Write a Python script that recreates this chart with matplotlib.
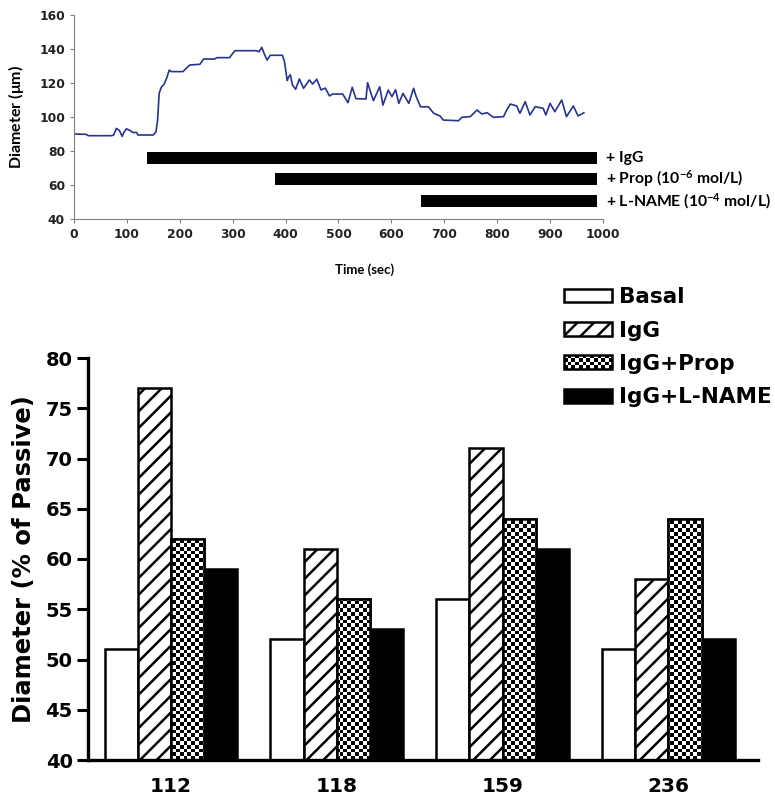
import numpy as np
import matplotlib
matplotlib.use("Agg")
import matplotlib.pyplot as plt
from matplotlib.patches import Rectangle
from matplotlib.legend_handler import HandlerBase

plt.rcParams['mathtext.fontset'] = 'custom'
plt.rcParams['mathtext.rm'] = 'Lato'
plt.rcParams['mathtext.bf'] = 'Lato:bold'
plt.rcParams['mathtext.it'] = 'Lato:italic'
plt.rcParams['hatch.linewidth'] = 1.8

# ---------------- data: top trace ----------------
trace_t = [0, 23, 27, 71, 75, 80, 86, 91, 94, 99, 106, 112, 118, 121, 150, 155, 158, 161,
           165, 170, 175, 180, 184, 206, 212, 219, 238, 245, 266, 270, 294, 304, 345, 350,
           355, 360, 365, 371, 394, 398, 403, 406, 409, 413, 419, 426, 434, 445, 451, 459,
           467, 475, 483, 489, 508, 518, 526, 533, 552, 555, 566, 578, 584, 594, 601, 608,
           614, 622, 633, 642, 647, 655, 670, 680, 692, 698, 727, 733, 749, 762, 771, 781,
           793, 812, 818, 825, 837, 843, 853, 862, 872, 887, 892, 900, 909, 922, 931, 944,
           953, 964]
trace_d = [90.0, 89.8, 89.0, 89.0, 89.4, 93.3, 92.0, 88.6, 90.8, 93.1, 92.0, 90.8, 91.0, 89.4,
           89.4, 91.4, 98.2, 113.9, 117.5, 119.2, 122.7, 127.6, 126.7, 126.7, 128.6, 130.6,
           131.0, 134.1, 134.1, 134.9, 134.9, 139.0, 139.0, 138.4, 141.0, 136.9, 133.5, 136.3,
           136.3, 132.5, 121.4, 123.7, 124.9, 118.8, 116.3, 122.4, 116.9, 121.8, 119.4, 122.2,
           115.9, 117.0, 112.4, 113.5, 113.5, 108.4, 117.5, 110.8, 110.6, 120.2, 109.6, 117.8,
           107.0, 115.8, 112.0, 116.0, 108.0, 113.9, 108.0, 116.9, 112.0, 106.0, 106.0, 102.2,
           100.6, 98.2, 97.8, 99.8, 100.2, 104.1, 101.8, 102.5, 99.8, 100.2, 104.1, 107.6,
           106.5, 102.2, 109.0, 101.2, 106.1, 105.1, 101.2, 108.0, 103.1, 110.0, 100.2, 106.5,
           100.6, 102.5]

treat_labels = ['+ IgG', r'+ Prop (10$^{\mathbf{-6}}$ mol/L)', r'+ L-NAME (10$^{\mathbf{-4}}$ mol/L)']
treat_start = [138, 380, 656]
treat_end = [989, 989, 989]
treat_y = [76.0, 63.5, 50.5]

# ---------------- data: bar chart ----------------
groups = ['112', '118', '159', '236']
series = ['Basal', 'IgG', 'IgG+Prop', 'IgG+L-NAME']
basal = [51, 52, 56, 51]
igg = [77, 61, 71, 58]
igg_prop = [62, 56, 64, 64]
igg_lname = [59, 53, 61, 52]

fig = plt.figure(figsize=(7.75, 8.0), dpi=100)

# ---------------- top panel ----------------
ax1 = fig.add_axes([0.0955, 0.72625, 0.778 - 0.0955, 0.98125 - 0.72625])
ax1.plot(trace_t, trace_d, color='#26338F', lw=1.2)
for s, e, y in zip(treat_start, treat_end, treat_y):
    ax1.barh(y, e - s, left=s, height=6.8, color='black', clip_on=False)
for lab, y in zip(treat_labels, treat_y):
    ax1.text(1005, y, lab, fontsize=11.3, fontweight='bold', family='Lato',
             va='center', ha='left', clip_on=False)
ax1.set_xlim(0, 1000)
ax1.set_ylim(40, 160)
ax1.set_xticks(np.arange(0, 1001, 100))
ax1.set_yticks(np.arange(40, 161, 20))
for sp in ['top', 'right']:
    ax1.spines[sp].set_visible(False)
for sp in ['left', 'bottom']:
    ax1.spines[sp].set_color('#808080')
    ax1.spines[sp].set_linewidth(0.8)
ax1.tick_params(axis='both', colors='#808080', length=3, width=0.8, labelcolor='#222222')
for lab in ax1.get_xticklabels() + ax1.get_yticklabels():
    lab.set_fontweight('bold')
    lab.set_family('DejaVu Sans')
    lab.set_fontsize(8.8)
ax1.set_xlabel('Time (sec)', fontsize=9.5, fontweight='bold', family='Lato')
ax1.xaxis.set_label_coords(0.55, -0.215)
ax1.set_ylabel(r'Diameter ($\mathbf{\mu}$m)', fontsize=11.5, fontweight='bold', family='Lato')
ax1.yaxis.set_label_coords(-0.09, 0.5)

# ---------------- bottom panel ----------------
ax2 = fig.add_axes([0.1135, 0.05, 0.978 - 0.1135, 0.5525 - 0.05])
x = np.arange(len(groups))
w = 0.2
xlim = (-0.5, 3.54)
ylim = (40, 80)
ax2.set_xlim(*xlim)
ax2.set_ylim(*ylim)

lw = 1.8
ax2.bar(x - 1.5 * w, basal, w, facecolor='white', edgecolor='black', lw=lw, zorder=2)
ax2.bar(x - 0.5 * w, igg, w, facecolor='white', edgecolor='black', lw=lw, hatch='//', zorder=2)
prop_bars = ax2.bar(x + 0.5 * w, igg_prop, w, facecolor='white', edgecolor='black', lw=lw, zorder=2)
ax2.bar(x + 1.5 * w, igg_lname, w, facecolor='black', edgecolor='black', lw=lw, zorder=2)

# checkerboard fill for IgG+Prop bars
nx, ny = 176, 106
checker = (np.add.outer(np.arange(ny), np.arange(nx)) % 2).astype(float)
for b in prop_bars:
    im = ax2.imshow(checker, cmap='gray_r', extent=(xlim[0], xlim[1], ylim[0], ylim[1]),
                    aspect='auto', interpolation='nearest', zorder=2.5, origin='lower')
    im.set_clip_path(b)
ax2.bar(x + 0.5 * w, igg_prop, w, facecolor='none', edgecolor='black', lw=lw, zorder=3)

ax2.set_xticks(x)
ax2.set_xticklabels(groups)
ax2.set_yticks(np.arange(40, 81, 5))
for sp in ['top', 'right']:
    ax2.spines[sp].set_visible(False)
ax2.spines['left'].set_linewidth(2.4)
ax2.spines['bottom'].set_linewidth(2.4)
ax2.tick_params(axis='y', length=8, width=2.2, pad=3)
ax2.tick_params(axis='x', length=0, pad=12)
for lab in ax2.get_yticklabels():
    lab.set_fontweight('bold')
    lab.set_family('DejaVu Sans')
    lab.set_fontsize(14)
for lab in ax2.get_xticklabels():
    lab.set_fontweight('bold')
    lab.set_family('DejaVu Sans')
    lab.set_fontsize(14.5)
ax2.set_ylabel('Diameter (% of Passive)', fontsize=17.5, fontweight='bold',
               family='DejaVu Sans')
ax2.yaxis.set_label_coords(-0.078, 0.5)


class CheckerHandler(HandlerBase):
    def create_artists(self, legend, orig_handle, xdescent, ydescent, width, height,
                       fontsize, trans):
        arts = []
        cell = 2.7
        bg = Rectangle((-xdescent, -ydescent), width, height, facecolor='white',
                       edgecolor='none', transform=trans)
        arts.append(bg)
        ncol = int(width / cell) + 1
        nrow = int(height / cell) + 1
        for i in range(nrow):
            for j in range(ncol):
                if (i + j) % 2 == 0:
                    cw = min(cell, width - j * cell)
                    ch = min(cell, height - i * cell)
                    if cw <= 0 or ch <= 0:
                        continue
                    arts.append(Rectangle((-xdescent + j * cell, -ydescent + i * cell), cw, ch,
                                          facecolor='black', edgecolor='none', transform=trans))
        border = Rectangle((-xdescent, -ydescent), width, height, facecolor='none',
                           edgecolor='black', lw=1.8, transform=trans)
        arts.append(border)
        return arts


h_basal = Rectangle((0, 0), 1, 1, facecolor='white', edgecolor='black', lw=1.8)
h_igg = Rectangle((0, 0), 1, 1, facecolor='white', edgecolor='black', lw=1.8, hatch='//')
h_prop = Rectangle((0, 0), 1, 1, facecolor='white', edgecolor='black', lw=1.8)
h_ln = Rectangle((0, 0), 1, 1, facecolor='black', edgecolor='black', lw=1.8)
fs = 15.5
leg = fig.legend([h_basal, h_igg, h_prop, h_ln], series,
                 loc='upper left', bbox_to_anchor=(0.7277, 0.641),
                 frameon=False, borderpad=0, borderaxespad=0,
                 handlelength=34.5 / fs, handleheight=9.4 / fs, handletextpad=0.35,
                 labelspacing=0.62,
                 prop={'family': 'DejaVu Sans', 'weight': 'bold', 'size': fs},
                 handler_map={h_prop: CheckerHandler()})

fig.savefig('out.png', dpi=100)
